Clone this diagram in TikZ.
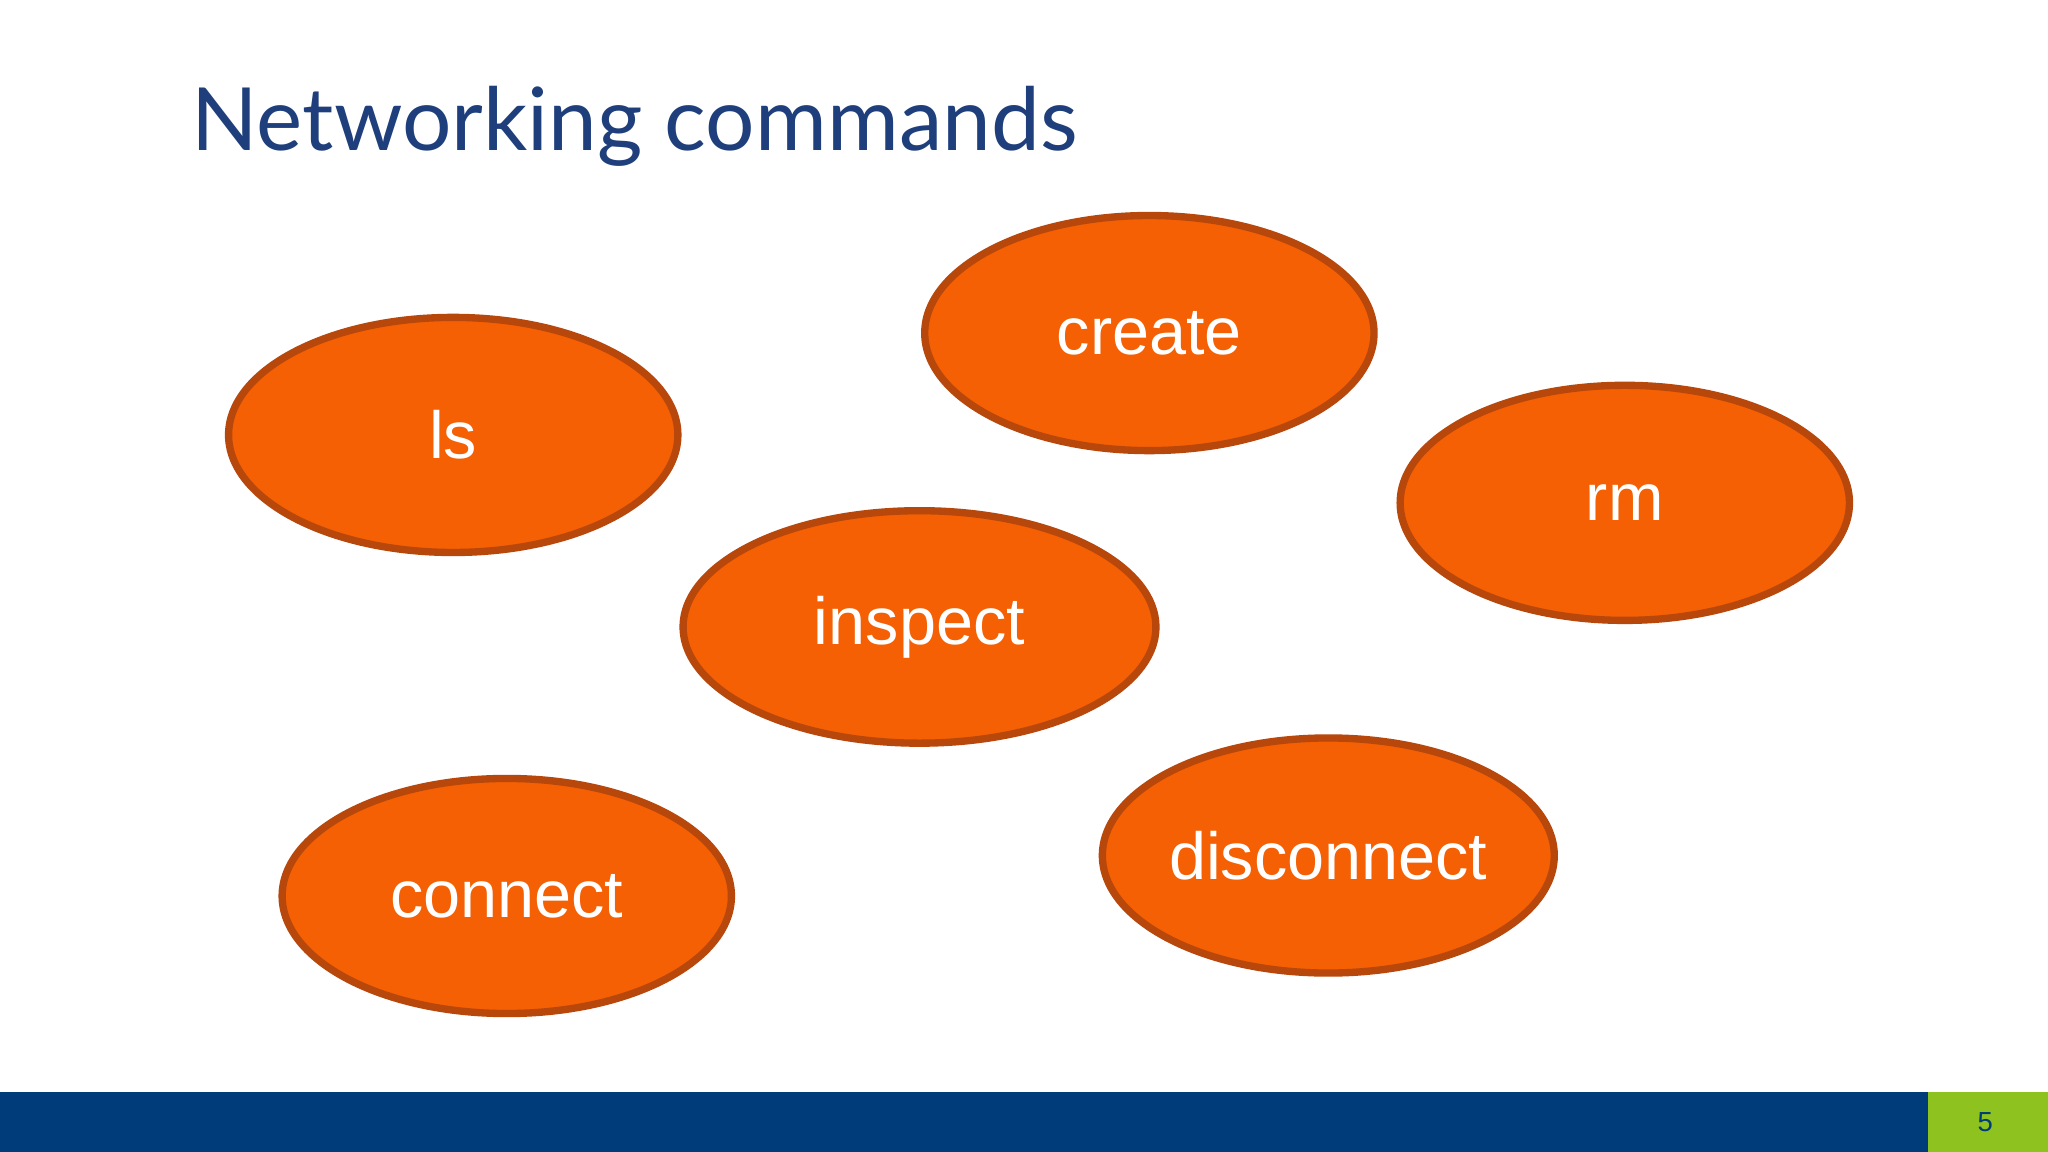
\documentclass[tikz,border=0pt]{standalone}
\usepackage{fontspec}
\setmainfont{Liberation Sans}
\newfontfamily\titlefont{Lato}
\definecolor{orangefill}{HTML}{F46003}
\definecolor{orangeline}{HTML}{B8470C}
\definecolor{navy}{HTML}{003B7A}
\definecolor{titleblue}{HTML}{1F3F7C}
\definecolor{limegreen}{HTML}{8DC21F}
\begin{document}
\begin{tikzpicture}[x=0.01cm,y=-0.01cm,
  cmd/.style={draw=orangeline,line width=1.6pt,fill=orangefill,ellipse,text=white,font=\fontsize{14.5}{16}\selectfont}]
\useasboundingbox (0,0) rectangle (1568,882);
\fill[white] (0,0) rectangle (1568,882);
\fill[navy] (0,836) rectangle (1476,882);
\fill[limegreen] (1476,836) rectangle (1568,882);
\node[text=navy,font=\fontsize{6}{7}\selectfont] (pg) at (1520,859) {5};
\node[anchor=base west,inner sep=0,text=titleblue,font=\titlefont\fontsize{19}{22}\selectfont] (title) at (146,115) {Networking commands};
\foreach \n/\x/\y/\rx/\ry/\t in {create/880/255/172/90/create, ls/347/333/172/90/ls, rm/1244/385/172/90/rm, inspect/704/480/181/89/inspect, connect/388/686/172/90/connect, disconnect/1017/655/173/90/disconnect}{
  \draw[draw=orangeline,line width=1.6pt,fill=orangefill] (\x,\y) ellipse [x radius=\rx, y radius=\ry];
  \node[text=white,font=\fontsize{14.5}{16}\selectfont] (\n) at (\x,\y) {\t};
}
\end{tikzpicture}
\end{document}
